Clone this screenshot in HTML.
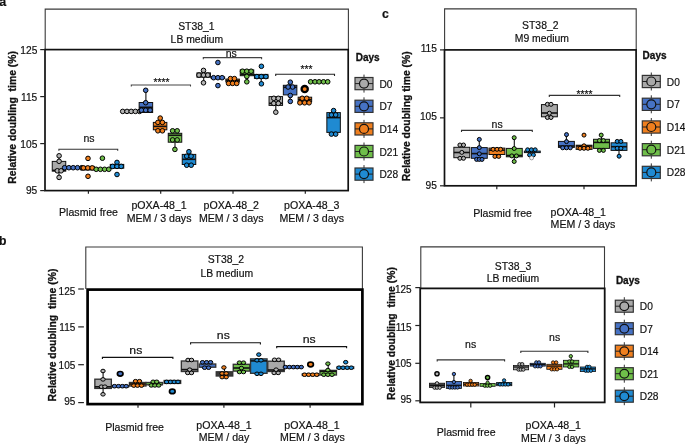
<!DOCTYPE html>
<html><head><meta charset="utf-8"><style>
html,body{margin:0;padding:0;background:#fff;}
svg{display:block;font-family:"Liberation Sans",sans-serif;-webkit-font-smoothing:antialiased;will-change:transform;}
text{stroke:#111;stroke-width:0.18px;}
</style></head><body>
<svg width="685" height="444" viewBox="0 0 685 444">
<rect width="685" height="444" fill="#fff"/>
<text x="-0.8" y="6.4" font-size="12.5" text-anchor="start" font-weight="bold" fill="#111">a</text>
<path d="M45.2 49.6V9.1H348.4V49.6" fill="none" stroke="#3a3a3a" stroke-width="1.1"/>
<text x="196.4" y="29.6" font-size="10.4" text-anchor="middle" font-weight="normal" fill="#111">ST38_1</text>
<text x="196.9" y="42.5" font-size="10.4" text-anchor="middle" font-weight="normal" fill="#111">LB medium</text>
<rect x="45" y="49.6" width="303.2" height="141" fill="none" stroke="#111" stroke-width="1.7"/>
<line x1="40.2" y1="49.6" x2="45" y2="49.6" stroke="#222" stroke-width="1.2"/>
<text x="37.3" y="53.7" font-size="10.2" text-anchor="end" font-weight="normal" fill="#111">125</text>
<line x1="40.2" y1="96.6" x2="45" y2="96.6" stroke="#222" stroke-width="1.2"/>
<text x="37.3" y="100.6" font-size="10.2" text-anchor="end" font-weight="normal" fill="#111">115</text>
<line x1="40.2" y1="143.6" x2="45" y2="143.6" stroke="#222" stroke-width="1.2"/>
<text x="37.3" y="147.6" font-size="10.2" text-anchor="end" font-weight="normal" fill="#111">105</text>
<line x1="40.2" y1="190.6" x2="45" y2="190.6" stroke="#222" stroke-width="1.2"/>
<text x="37.3" y="194.4" font-size="10.2" text-anchor="end" font-weight="normal" fill="#111">95</text>
<line x1="88.4" y1="190.6" x2="88.4" y2="193.8" stroke="#222" stroke-width="1.2"/>
<line x1="160.7" y1="190.6" x2="160.7" y2="193.8" stroke="#222" stroke-width="1.2"/>
<line x1="233" y1="190.6" x2="233" y2="193.8" stroke="#222" stroke-width="1.2"/>
<line x1="305.3" y1="190.6" x2="305.3" y2="193.8" stroke="#222" stroke-width="1.2"/>
<text x="88.5" y="216.2" font-size="10.6" text-anchor="middle" font-weight="normal" fill="#111">Plasmid free</text>
<text x="159.1" y="208.9" font-size="10.6" text-anchor="middle" font-weight="normal" fill="#111">pOXA-48_1</text>
<text x="159.1" y="221.7" font-size="10.6" text-anchor="middle" font-weight="normal" fill="#111">MEM / 3 days</text>
<text x="231.3" y="208.9" font-size="10.6" text-anchor="middle" font-weight="normal" fill="#111">pOXA-48_2</text>
<text x="231.3" y="221.7" font-size="10.6" text-anchor="middle" font-weight="normal" fill="#111">MEM / 3 days</text>
<text x="311.8" y="208.9" font-size="10.6" text-anchor="middle" font-weight="normal" fill="#111">pOXA-48_3</text>
<text x="311.8" y="221.7" font-size="10.6" text-anchor="middle" font-weight="normal" fill="#111">MEM / 3 days</text>
<text transform="translate(15.5,117.4) rotate(-90)" x="0" y="0" font-size="10.4" text-anchor="middle" font-weight="bold" fill="#111" style="stroke-width:0.3px" xml:space="preserve">Relative doubling  time (%)</text>
<line x1="59" y1="155.8" x2="59" y2="177.4" stroke="#111" stroke-width="1.1"/>
<rect x="52.25" y="161.4" width="13.5" height="9.7" fill="#a9a9a9" stroke="#111" stroke-width="1"/>
<line x1="52.25" y1="170.4" x2="65.75" y2="170.4" stroke="#111" stroke-width="1.6"/>
<circle cx="59.1" cy="155.8" r="2.3" fill="#b4b4b4" stroke="#000" stroke-width="1"/>
<circle cx="59.1" cy="161.3" r="2.3" fill="#b4b4b4" stroke="#000" stroke-width="1"/>
<circle cx="57.3" cy="170.8" r="2.3" fill="#b4b4b4" stroke="#000" stroke-width="1"/>
<circle cx="61.1" cy="170.8" r="2.3" fill="#b4b4b4" stroke="#000" stroke-width="1"/>
<circle cx="59.1" cy="177.4" r="2.3" fill="#b4b4b4" stroke="#000" stroke-width="1"/>
<rect x="66.85" y="167" width="13.5" height="1.4" fill="#4672c4" stroke="#111" stroke-width="1"/>
<circle cx="64.6" cy="167.7" r="2.3" fill="#4672c4" stroke="#000" stroke-width="1"/>
<circle cx="68.9" cy="167.7" r="2.3" fill="#4672c4" stroke="#000" stroke-width="1"/>
<circle cx="73.2" cy="167.7" r="2.3" fill="#4672c4" stroke="#000" stroke-width="1"/>
<circle cx="77.5" cy="167.7" r="2.3" fill="#4672c4" stroke="#000" stroke-width="1"/>
<circle cx="81.8" cy="167.7" r="2.3" fill="#4672c4" stroke="#000" stroke-width="1"/>
<rect x="80.85" y="166.4" width="13.5" height="3.6" fill="#f07f1e" stroke="#111" stroke-width="1"/>
<line x1="80.85" y1="169.2" x2="94.35" y2="169.2" stroke="#111" stroke-width="1.6"/>
<circle cx="88" cy="158.4" r="2.3" fill="#f07f1e" stroke="#000" stroke-width="1"/>
<circle cx="83.4" cy="167.9" r="2.3" fill="#f07f1e" stroke="#000" stroke-width="1"/>
<circle cx="87.8" cy="167.9" r="2.3" fill="#f07f1e" stroke="#000" stroke-width="1"/>
<circle cx="92.2" cy="167.9" r="2.3" fill="#f07f1e" stroke="#000" stroke-width="1"/>
<circle cx="88" cy="176.3" r="2.3" fill="#f07f1e" stroke="#000" stroke-width="1"/>
<rect x="95.85" y="168.6" width="13.5" height="1.4" fill="#6fbe4a" stroke="#111" stroke-width="1"/>
<circle cx="102.4" cy="158.2" r="2.3" fill="#6fbe4a" stroke="#000" stroke-width="1"/>
<circle cx="96.2" cy="169.3" r="2.3" fill="#6fbe4a" stroke="#000" stroke-width="1"/>
<circle cx="100.4" cy="169.3" r="2.3" fill="#6fbe4a" stroke="#000" stroke-width="1"/>
<circle cx="104.6" cy="169.3" r="2.3" fill="#6fbe4a" stroke="#000" stroke-width="1"/>
<circle cx="108.8" cy="169.3" r="2.3" fill="#6fbe4a" stroke="#000" stroke-width="1"/>
<rect x="110.25" y="164.4" width="13.5" height="3.8" fill="#1f8ad2" stroke="#111" stroke-width="1"/>
<line x1="110.25" y1="166.4" x2="123.75" y2="166.4" stroke="#111" stroke-width="1.6"/>
<circle cx="117" cy="162.4" r="2.3" fill="#1f8ad2" stroke="#000" stroke-width="1"/>
<circle cx="112.6" cy="166.4" r="2.3" fill="#1f8ad2" stroke="#000" stroke-width="1"/>
<circle cx="117" cy="166.4" r="2.3" fill="#1f8ad2" stroke="#000" stroke-width="1"/>
<circle cx="121.2" cy="166.4" r="2.3" fill="#1f8ad2" stroke="#000" stroke-width="1"/>
<circle cx="117" cy="174.5" r="2.3" fill="#1f8ad2" stroke="#000" stroke-width="1"/>
<rect x="124.45" y="110.6" width="13.5" height="1.6" fill="#a9a9a9" stroke="#111" stroke-width="1"/>
<circle cx="122.7" cy="111.4" r="2.3" fill="#b4b4b4" stroke="#000" stroke-width="1"/>
<circle cx="127" cy="111.4" r="2.3" fill="#b4b4b4" stroke="#000" stroke-width="1"/>
<circle cx="131.2" cy="111.4" r="2.3" fill="#b4b4b4" stroke="#000" stroke-width="1"/>
<circle cx="135.4" cy="111.4" r="2.3" fill="#b4b4b4" stroke="#000" stroke-width="1"/>
<circle cx="139.6" cy="111.4" r="2.3" fill="#b4b4b4" stroke="#000" stroke-width="1"/>
<line x1="145.9" y1="90.3" x2="145.9" y2="102.5" stroke="#111" stroke-width="1.1"/>
<rect x="139.15" y="102.5" width="13.5" height="10" fill="#4672c4" stroke="#111" stroke-width="1"/>
<line x1="139.15" y1="107.3" x2="152.65" y2="107.3" stroke="#111" stroke-width="1.6"/>
<circle cx="145.7" cy="90.3" r="2.3" fill="#4672c4" stroke="#000" stroke-width="1"/>
<circle cx="145.7" cy="102.7" r="2.3" fill="#4672c4" stroke="#000" stroke-width="1"/>
<circle cx="141.4" cy="110.2" r="2.3" fill="#4672c4" stroke="#000" stroke-width="1"/>
<circle cx="145.7" cy="110.2" r="2.3" fill="#4672c4" stroke="#000" stroke-width="1"/>
<circle cx="150.1" cy="110.2" r="2.3" fill="#4672c4" stroke="#000" stroke-width="1"/>
<rect x="153.35" y="122.4" width="13.5" height="7.4" fill="#f07f1e" stroke="#111" stroke-width="1"/>
<line x1="153.35" y1="126.4" x2="166.85" y2="126.4" stroke="#111" stroke-width="1.6"/>
<circle cx="160.2" cy="118.1" r="2.3" fill="#f07f1e" stroke="#000" stroke-width="1"/>
<circle cx="157.9" cy="122.4" r="2.3" fill="#f07f1e" stroke="#000" stroke-width="1"/>
<circle cx="162.4" cy="122.4" r="2.3" fill="#f07f1e" stroke="#000" stroke-width="1"/>
<circle cx="157.9" cy="130.8" r="2.3" fill="#f07f1e" stroke="#000" stroke-width="1"/>
<circle cx="162.4" cy="130.8" r="2.3" fill="#f07f1e" stroke="#000" stroke-width="1"/>
<line x1="175" y1="142.2" x2="175" y2="149.4" stroke="#111" stroke-width="1.1"/>
<rect x="168.25" y="133.3" width="13.5" height="8.9" fill="#6fbe4a" stroke="#111" stroke-width="1"/>
<line x1="168.25" y1="135.3" x2="181.75" y2="135.3" stroke="#111" stroke-width="1.6"/>
<circle cx="172.6" cy="130.8" r="2.3" fill="#6fbe4a" stroke="#000" stroke-width="1"/>
<circle cx="177.2" cy="130.8" r="2.3" fill="#6fbe4a" stroke="#000" stroke-width="1"/>
<circle cx="172.6" cy="139.9" r="2.3" fill="#6fbe4a" stroke="#000" stroke-width="1"/>
<circle cx="177.2" cy="139.9" r="2.3" fill="#6fbe4a" stroke="#000" stroke-width="1"/>
<circle cx="174.9" cy="149.4" r="2.3" fill="#6fbe4a" stroke="#000" stroke-width="1"/>
<rect x="182.25" y="154.4" width="13.5" height="10.1" fill="#1f8ad2" stroke="#111" stroke-width="1"/>
<line x1="182.25" y1="159.3" x2="195.75" y2="159.3" stroke="#111" stroke-width="1.6"/>
<circle cx="188.9" cy="151.7" r="2.3" fill="#1f8ad2" stroke="#000" stroke-width="1"/>
<circle cx="186.7" cy="156.2" r="2.3" fill="#1f8ad2" stroke="#000" stroke-width="1"/>
<circle cx="191.1" cy="156.2" r="2.3" fill="#1f8ad2" stroke="#000" stroke-width="1"/>
<circle cx="186.7" cy="165.2" r="2.3" fill="#1f8ad2" stroke="#000" stroke-width="1"/>
<circle cx="191.2" cy="165.2" r="2.3" fill="#1f8ad2" stroke="#000" stroke-width="1"/>
<line x1="203.7" y1="70.4" x2="203.7" y2="82.8" stroke="#111" stroke-width="1.1"/>
<rect x="196.95" y="72.9" width="13.5" height="4.3" fill="#a9a9a9" stroke="#111" stroke-width="1"/>
<line x1="196.95" y1="75.1" x2="210.45" y2="75.1" stroke="#111" stroke-width="1.6"/>
<circle cx="203.5" cy="70.4" r="2.3" fill="#b4b4b4" stroke="#000" stroke-width="1"/>
<circle cx="199" cy="75.1" r="2.3" fill="#b4b4b4" stroke="#000" stroke-width="1"/>
<circle cx="203.5" cy="75.1" r="2.3" fill="#b4b4b4" stroke="#000" stroke-width="1"/>
<circle cx="207.8" cy="75.1" r="2.3" fill="#b4b4b4" stroke="#000" stroke-width="1"/>
<circle cx="203.5" cy="82.8" r="2.3" fill="#b4b4b4" stroke="#000" stroke-width="1"/>
<rect x="211.15" y="77" width="13.5" height="1.4" fill="#4672c4" stroke="#111" stroke-width="1"/>
<circle cx="217.9" cy="62.5" r="2.3" fill="#4672c4" stroke="#000" stroke-width="1"/>
<circle cx="213.6" cy="77.7" r="2.3" fill="#4672c4" stroke="#000" stroke-width="1"/>
<circle cx="217.9" cy="77.7" r="2.3" fill="#4672c4" stroke="#000" stroke-width="1"/>
<circle cx="222.1" cy="77.7" r="2.3" fill="#4672c4" stroke="#000" stroke-width="1"/>
<circle cx="217.9" cy="85.6" r="2.3" fill="#4672c4" stroke="#000" stroke-width="1"/>
<rect x="225.85" y="79.1" width="13.5" height="2.9" fill="#f07f1e" stroke="#111" stroke-width="1"/>
<line x1="225.85" y1="80.5" x2="239.35" y2="80.5" stroke="#111" stroke-width="1.6"/>
<circle cx="230.4" cy="78.6" r="2.3" fill="#f07f1e" stroke="#000" stroke-width="1"/>
<circle cx="234.4" cy="78.6" r="2.3" fill="#f07f1e" stroke="#000" stroke-width="1"/>
<circle cx="228.6" cy="83.4" r="2.3" fill="#f07f1e" stroke="#000" stroke-width="1"/>
<circle cx="232.6" cy="83.4" r="2.3" fill="#f07f1e" stroke="#000" stroke-width="1"/>
<circle cx="236.7" cy="83.4" r="2.3" fill="#f07f1e" stroke="#000" stroke-width="1"/>
<line x1="247" y1="75.7" x2="247" y2="81.8" stroke="#111" stroke-width="1.1"/>
<rect x="240.25" y="69.9" width="13.5" height="5.8" fill="#6fbe4a" stroke="#111" stroke-width="1"/>
<line x1="240.25" y1="74.4" x2="253.75" y2="74.4" stroke="#111" stroke-width="1.6"/>
<circle cx="242.5" cy="71.2" r="2.3" fill="#6fbe4a" stroke="#000" stroke-width="1"/>
<circle cx="246.8" cy="71.2" r="2.3" fill="#6fbe4a" stroke="#000" stroke-width="1"/>
<circle cx="251.1" cy="71.2" r="2.3" fill="#6fbe4a" stroke="#000" stroke-width="1"/>
<circle cx="246.8" cy="76.4" r="2.3" fill="#6fbe4a" stroke="#000" stroke-width="1"/>
<circle cx="246.8" cy="81.8" r="2.3" fill="#6fbe4a" stroke="#000" stroke-width="1"/>
<line x1="261.2" y1="78.4" x2="261.2" y2="83.8" stroke="#111" stroke-width="1.1"/>
<rect x="254.45" y="74.4" width="13.5" height="4" fill="#1f8ad2" stroke="#111" stroke-width="1"/>
<line x1="254.45" y1="76.6" x2="267.95" y2="76.6" stroke="#111" stroke-width="1.6"/>
<circle cx="261.4" cy="66.3" r="2.3" fill="#1f8ad2" stroke="#000" stroke-width="1"/>
<circle cx="256.9" cy="76.6" r="2.3" fill="#1f8ad2" stroke="#000" stroke-width="1"/>
<circle cx="261.3" cy="76.6" r="2.3" fill="#1f8ad2" stroke="#000" stroke-width="1"/>
<circle cx="265.9" cy="76.6" r="2.3" fill="#1f8ad2" stroke="#000" stroke-width="1"/>
<circle cx="261.4" cy="83.8" r="2.3" fill="#1f8ad2" stroke="#000" stroke-width="1"/>
<line x1="275.8" y1="105.4" x2="275.8" y2="112.2" stroke="#111" stroke-width="1.1"/>
<rect x="269.05" y="96.6" width="13.5" height="8.8" fill="#a9a9a9" stroke="#111" stroke-width="1"/>
<line x1="269.05" y1="103.3" x2="282.55" y2="103.3" stroke="#111" stroke-width="1.6"/>
<circle cx="273.8" cy="98.3" r="2.3" fill="#b4b4b4" stroke="#000" stroke-width="1"/>
<circle cx="278.3" cy="98.3" r="2.3" fill="#b4b4b4" stroke="#000" stroke-width="1"/>
<circle cx="273.8" cy="103.4" r="2.3" fill="#b4b4b4" stroke="#000" stroke-width="1"/>
<circle cx="278.3" cy="103.4" r="2.3" fill="#b4b4b4" stroke="#000" stroke-width="1"/>
<circle cx="275.8" cy="112.2" r="2.3" fill="#b4b4b4" stroke="#000" stroke-width="1"/>
<line x1="290.1" y1="82.2" x2="290.1" y2="101.4" stroke="#111" stroke-width="1.1"/>
<rect x="283.35" y="85.3" width="13.5" height="9.6" fill="#4672c4" stroke="#111" stroke-width="1"/>
<line x1="283.35" y1="87.3" x2="296.85" y2="87.3" stroke="#111" stroke-width="1.6"/>
<circle cx="290.3" cy="82.2" r="2.3" fill="#4672c4" stroke="#000" stroke-width="1"/>
<circle cx="288.1" cy="87" r="2.3" fill="#4672c4" stroke="#000" stroke-width="1"/>
<circle cx="292.6" cy="87" r="2.3" fill="#4672c4" stroke="#000" stroke-width="1"/>
<circle cx="290.3" cy="95.5" r="2.3" fill="#4672c4" stroke="#000" stroke-width="1"/>
<circle cx="290.3" cy="101.4" r="2.3" fill="#4672c4" stroke="#000" stroke-width="1"/>
<rect x="298.15" y="97.2" width="13.5" height="4.5" fill="#f07f1e" stroke="#111" stroke-width="1"/>
<line x1="298.15" y1="99.6" x2="311.65" y2="99.6" stroke="#111" stroke-width="1.6"/>
<circle cx="304.7" cy="89.1" r="3.1" fill="#f07f1e" stroke="#000" stroke-width="2.3"/>
<circle cx="302.2" cy="98.3" r="2.3" fill="#f07f1e" stroke="#000" stroke-width="1"/>
<circle cx="306.7" cy="98.3" r="2.3" fill="#f07f1e" stroke="#000" stroke-width="1"/>
<circle cx="299.9" cy="102.8" r="2.3" fill="#f07f1e" stroke="#000" stroke-width="1"/>
<circle cx="304.6" cy="102.8" r="2.3" fill="#f07f1e" stroke="#000" stroke-width="1"/>
<circle cx="309.1" cy="102.8" r="2.3" fill="#f07f1e" stroke="#000" stroke-width="1"/>
<rect x="312.25" y="81.1" width="13.5" height="1.4" fill="#6fbe4a" stroke="#111" stroke-width="1"/>
<circle cx="310.6" cy="81.8" r="2.3" fill="#6fbe4a" stroke="#000" stroke-width="1"/>
<circle cx="315" cy="81.8" r="2.3" fill="#6fbe4a" stroke="#000" stroke-width="1"/>
<circle cx="319.1" cy="81.8" r="2.3" fill="#6fbe4a" stroke="#000" stroke-width="1"/>
<circle cx="323.5" cy="81.8" r="2.3" fill="#6fbe4a" stroke="#000" stroke-width="1"/>
<circle cx="327.7" cy="81.8" r="2.3" fill="#6fbe4a" stroke="#000" stroke-width="1"/>
<rect x="326.85" y="112.6" width="13.5" height="19.8" fill="#1f8ad2" stroke="#111" stroke-width="1"/>
<line x1="326.85" y1="117.6" x2="340.35" y2="117.6" stroke="#111" stroke-width="1.6"/>
<circle cx="333.6" cy="110.6" r="2.3" fill="#1f8ad2" stroke="#000" stroke-width="1"/>
<circle cx="331.4" cy="114.9" r="2.3" fill="#1f8ad2" stroke="#000" stroke-width="1"/>
<circle cx="335.7" cy="114.9" r="2.3" fill="#1f8ad2" stroke="#000" stroke-width="1"/>
<circle cx="331.4" cy="134.1" r="2.3" fill="#1f8ad2" stroke="#000" stroke-width="1"/>
<circle cx="335.7" cy="134.1" r="2.3" fill="#1f8ad2" stroke="#000" stroke-width="1"/>
<path d="M58.9 150.8V149.2H117.7V150.8" fill="none" stroke="#333" stroke-width="1.1"/>
<text x="89" y="142.4" font-size="10.5" text-anchor="middle" font-weight="normal" fill="#111">ns</text>
<path d="M131.3 86.6V85H190.5V86.6" fill="none" stroke="#444" stroke-width="1.1"/>
<text x="161.4" y="85.6" font-size="10.3" text-anchor="middle" font-weight="normal" fill="#111">****</text>
<path d="M203.3 59.2V57.6H261.6V59.2" fill="none" stroke="#444" stroke-width="1.1"/>
<text x="231.3" y="56.8" font-size="10.5" text-anchor="middle" font-weight="normal" fill="#111">ns</text>
<path d="M275.7 75.9V74.3H334.5V75.9" fill="none" stroke="#222" stroke-width="1.1"/>
<text x="306.4" y="72.6" font-size="10.3" text-anchor="middle" font-weight="normal" fill="#111">***</text>
<text x="355.7" y="60.9" font-size="10" text-anchor="start" font-weight="bold" fill="#111" style="stroke-width:0.3px">Days</text>
<line x1="364" y1="74.6" x2="364" y2="92.6" stroke="#333" stroke-width="1"/>
<rect x="355" y="77.5" width="18" height="12.2" fill="#a9a9a9" stroke="#333" stroke-width="1.2"/>
<line x1="355" y1="83.6" x2="373" y2="83.6" stroke="#222" stroke-width="1"/>
<circle cx="364" cy="83.6" r="4.5" fill="#a9a9a9" stroke="#111" stroke-width="1.2"/>
<text x="379.5" y="87.6" font-size="10.2" text-anchor="start" font-weight="normal" fill="#111">D0</text>
<line x1="364" y1="97.3" x2="364" y2="115.3" stroke="#333" stroke-width="1"/>
<rect x="355" y="100.2" width="18" height="12.2" fill="#4672c4" stroke="#333" stroke-width="1.2"/>
<line x1="355" y1="106.3" x2="373" y2="106.3" stroke="#222" stroke-width="1"/>
<circle cx="364" cy="106.3" r="4.5" fill="#4672c4" stroke="#111" stroke-width="1.2"/>
<text x="379.5" y="110.3" font-size="10.2" text-anchor="start" font-weight="normal" fill="#111">D7</text>
<line x1="364" y1="119.9" x2="364" y2="137.9" stroke="#333" stroke-width="1"/>
<rect x="355" y="122.8" width="18" height="12.2" fill="#f07f1e" stroke="#333" stroke-width="1.2"/>
<line x1="355" y1="128.9" x2="373" y2="128.9" stroke="#222" stroke-width="1"/>
<circle cx="364" cy="128.9" r="4.5" fill="#f07f1e" stroke="#111" stroke-width="1.2"/>
<text x="379.5" y="132.9" font-size="10.2" text-anchor="start" font-weight="normal" fill="#111">D14</text>
<line x1="364" y1="142.5" x2="364" y2="160.5" stroke="#333" stroke-width="1"/>
<rect x="355" y="145.4" width="18" height="12.2" fill="#6fbe4a" stroke="#333" stroke-width="1.2"/>
<line x1="355" y1="151.5" x2="373" y2="151.5" stroke="#222" stroke-width="1"/>
<circle cx="364" cy="151.5" r="4.5" fill="#6fbe4a" stroke="#111" stroke-width="1.2"/>
<text x="379.5" y="155.5" font-size="10.2" text-anchor="start" font-weight="normal" fill="#111">D21</text>
<line x1="364" y1="165.1" x2="364" y2="183.1" stroke="#333" stroke-width="1"/>
<rect x="355" y="168" width="18" height="12.2" fill="#1f8ad2" stroke="#333" stroke-width="1.2"/>
<line x1="355" y1="174.1" x2="373" y2="174.1" stroke="#222" stroke-width="1"/>
<circle cx="364" cy="174.1" r="4.5" fill="#1f8ad2" stroke="#111" stroke-width="1.2"/>
<text x="379.5" y="178.1" font-size="10.2" text-anchor="start" font-weight="normal" fill="#111">D28</text>
<text x="382" y="18" font-size="12.2" text-anchor="start" font-weight="bold" fill="#111">c</text>
<path d="M444.6 49.9V8.9H636.2V49.9" fill="none" stroke="#3a3a3a" stroke-width="1.1"/>
<text x="540.3" y="28.9" font-size="10.4" text-anchor="middle" font-weight="normal" fill="#111">ST38_2</text>
<text x="541.9" y="41.6" font-size="10.4" text-anchor="middle" font-weight="normal" fill="#111">M9 medium</text>
<rect x="444.5" y="49.9" width="191.6" height="135.9" fill="none" stroke="#111" stroke-width="1.7"/>
<line x1="440" y1="49.9" x2="444.5" y2="49.9" stroke="#222" stroke-width="1.2"/>
<text x="436.9" y="51.9" font-size="10.2" text-anchor="end" font-weight="normal" fill="#111">115</text>
<line x1="440" y1="117.85" x2="444.5" y2="117.85" stroke="#222" stroke-width="1.2"/>
<text x="436.9" y="120.4" font-size="10.2" text-anchor="end" font-weight="normal" fill="#111">105</text>
<line x1="440" y1="185.8" x2="444.5" y2="185.8" stroke="#222" stroke-width="1.2"/>
<text x="436.9" y="189.4" font-size="10.2" text-anchor="end" font-weight="normal" fill="#111">95</text>
<line x1="496.8" y1="185.8" x2="496.8" y2="189.2" stroke="#222" stroke-width="1.2"/>
<line x1="584" y1="185.8" x2="584" y2="189.2" stroke="#222" stroke-width="1.2"/>
<text x="502.6" y="217" font-size="10.6" text-anchor="middle" font-weight="normal" fill="#111">Plasmid free</text>
<text x="550.6" y="215.7" font-size="10.6" text-anchor="start" font-weight="normal" fill="#111">pOXA-48_1</text>
<text x="550.6" y="228.1" font-size="10.6" text-anchor="start" font-weight="normal" fill="#111">MEM / 3 days</text>
<text transform="translate(410.3,116.2) rotate(-90)" x="0" y="0" font-size="10.4" text-anchor="middle" font-weight="bold" fill="#111" style="stroke-width:0.3px" xml:space="preserve">Relative doubling time (%)</text>
<rect x="453.85" y="147.3" width="15.9" height="10.4" fill="#a9a9a9" stroke="#111" stroke-width="1"/>
<line x1="453.85" y1="152.5" x2="469.75" y2="152.5" stroke="#111" stroke-width="1.6"/>
<circle cx="459.9" cy="145" r="2" fill="#b4b4b4" stroke="#000" stroke-width="1"/>
<circle cx="463.5" cy="145" r="2" fill="#b4b4b4" stroke="#000" stroke-width="1"/>
<circle cx="461.8" cy="152.4" r="2" fill="#b4b4b4" stroke="#000" stroke-width="1"/>
<circle cx="459.9" cy="158.3" r="2" fill="#b4b4b4" stroke="#000" stroke-width="1"/>
<circle cx="463.5" cy="158.3" r="2" fill="#b4b4b4" stroke="#000" stroke-width="1"/>
<line x1="479.3" y1="139.4" x2="479.3" y2="147.6" stroke="#111" stroke-width="1.1"/>
<rect x="471.35" y="147.6" width="15.9" height="10.7" fill="#4672c4" stroke="#111" stroke-width="1"/>
<line x1="471.35" y1="153.6" x2="487.25" y2="153.6" stroke="#111" stroke-width="1.6"/>
<circle cx="479.3" cy="139.4" r="2" fill="#4672c4" stroke="#000" stroke-width="1"/>
<circle cx="479.3" cy="147.6" r="2" fill="#4672c4" stroke="#000" stroke-width="1"/>
<circle cx="479.3" cy="153.8" r="2" fill="#4672c4" stroke="#000" stroke-width="1"/>
<circle cx="476.6" cy="159.4" r="2" fill="#4672c4" stroke="#000" stroke-width="1"/>
<circle cx="479.3" cy="159.4" r="2" fill="#4672c4" stroke="#000" stroke-width="1"/>
<circle cx="482" cy="159.4" r="2" fill="#4672c4" stroke="#000" stroke-width="1"/>
<rect x="488.95" y="148.1" width="15.9" height="6.4" fill="#f07f1e" stroke="#111" stroke-width="1"/>
<line x1="488.95" y1="150.2" x2="504.85" y2="150.2" stroke="#111" stroke-width="1.6"/>
<circle cx="493.1" cy="149.3" r="2" fill="#f07f1e" stroke="#000" stroke-width="1"/>
<circle cx="497" cy="149.3" r="2" fill="#f07f1e" stroke="#000" stroke-width="1"/>
<circle cx="500.6" cy="149.3" r="2" fill="#f07f1e" stroke="#000" stroke-width="1"/>
<circle cx="494.9" cy="156.4" r="2" fill="#f07f1e" stroke="#000" stroke-width="1"/>
<circle cx="498.7" cy="156.4" r="2" fill="#f07f1e" stroke="#000" stroke-width="1"/>
<line x1="514.3" y1="137.7" x2="514.3" y2="161.5" stroke="#111" stroke-width="1.1"/>
<rect x="506.35" y="148.4" width="15.9" height="8.4" fill="#6fbe4a" stroke="#111" stroke-width="1"/>
<line x1="506.35" y1="155.5" x2="522.25" y2="155.5" stroke="#111" stroke-width="1.6"/>
<circle cx="514.2" cy="137.7" r="2" fill="#6fbe4a" stroke="#000" stroke-width="1"/>
<circle cx="514.2" cy="148.5" r="2" fill="#6fbe4a" stroke="#000" stroke-width="1"/>
<circle cx="511.8" cy="155.9" r="2" fill="#6fbe4a" stroke="#000" stroke-width="1"/>
<circle cx="516.4" cy="155.9" r="2" fill="#6fbe4a" stroke="#000" stroke-width="1"/>
<circle cx="514.2" cy="161.5" r="2" fill="#6fbe4a" stroke="#000" stroke-width="1"/>
<rect x="524.35" y="151.1" width="15.9" height="1.5" fill="#1f8ad2" stroke="#111" stroke-width="1"/>
<circle cx="527.6" cy="149.8" r="2" fill="#1f8ad2" stroke="#000" stroke-width="1"/>
<circle cx="531.4" cy="149.8" r="2" fill="#1f8ad2" stroke="#000" stroke-width="1"/>
<circle cx="535.2" cy="149.8" r="2" fill="#1f8ad2" stroke="#000" stroke-width="1"/>
<circle cx="529.6" cy="154.9" r="2" fill="#1f8ad2" stroke="#000" stroke-width="1"/>
<circle cx="533.4" cy="154.9" r="2" fill="#1f8ad2" stroke="#000" stroke-width="1"/>
<circle cx="531.6" cy="157.9" r="2" fill="#f4f4f4" stroke="#666" stroke-width="0.6"/>
<rect x="541.45" y="104.6" width="15.9" height="12.2" fill="#a9a9a9" stroke="#111" stroke-width="1"/>
<line x1="541.45" y1="113" x2="557.35" y2="113" stroke="#111" stroke-width="1.6"/>
<circle cx="547.4" cy="104.3" r="2" fill="#b4b4b4" stroke="#000" stroke-width="1"/>
<circle cx="551" cy="104.3" r="2" fill="#b4b4b4" stroke="#000" stroke-width="1"/>
<circle cx="549.4" cy="113.2" r="2" fill="#b4b4b4" stroke="#000" stroke-width="1"/>
<circle cx="547.4" cy="117.5" r="2" fill="#b4b4b4" stroke="#000" stroke-width="1"/>
<circle cx="551" cy="117.5" r="2" fill="#b4b4b4" stroke="#000" stroke-width="1"/>
<line x1="566.4" y1="134.6" x2="566.4" y2="141.4" stroke="#111" stroke-width="1.1"/>
<rect x="558.45" y="141.4" width="15.9" height="6" fill="#4672c4" stroke="#111" stroke-width="1"/>
<line x1="558.45" y1="146" x2="574.35" y2="146" stroke="#111" stroke-width="1.6"/>
<circle cx="566.5" cy="134.6" r="2" fill="#4672c4" stroke="#000" stroke-width="1"/>
<circle cx="566.5" cy="141.6" r="2" fill="#4672c4" stroke="#000" stroke-width="1"/>
<circle cx="562.7" cy="147.8" r="2" fill="#4672c4" stroke="#000" stroke-width="1"/>
<circle cx="566.5" cy="147.8" r="2" fill="#4672c4" stroke="#000" stroke-width="1"/>
<circle cx="570.3" cy="147.8" r="2" fill="#4672c4" stroke="#000" stroke-width="1"/>
<rect x="576.15" y="145.2" width="15.9" height="4.2" fill="#f07f1e" stroke="#111" stroke-width="1"/>
<line x1="576.15" y1="146" x2="592.05" y2="146" stroke="#111" stroke-width="1.6"/>
<circle cx="584" cy="135.1" r="2" fill="#f07f1e" stroke="#000" stroke-width="1"/>
<circle cx="584" cy="145.8" r="2" fill="#f07f1e" stroke="#000" stroke-width="1"/>
<circle cx="580" cy="148.3" r="2" fill="#f07f1e" stroke="#000" stroke-width="1"/>
<circle cx="584" cy="148.3" r="2" fill="#f07f1e" stroke="#000" stroke-width="1"/>
<circle cx="587.9" cy="148.3" r="2" fill="#f07f1e" stroke="#000" stroke-width="1"/>
<line x1="601.5" y1="135.1" x2="601.5" y2="139.2" stroke="#111" stroke-width="1.1"/>
<rect x="593.55" y="139.3" width="15.9" height="9.1" fill="#6fbe4a" stroke="#111" stroke-width="1"/>
<line x1="593.55" y1="142.4" x2="609.45" y2="142.4" stroke="#111" stroke-width="1.6"/>
<circle cx="601.2" cy="135.1" r="2" fill="#6fbe4a" stroke="#000" stroke-width="1"/>
<circle cx="599.4" cy="140.6" r="2" fill="#6fbe4a" stroke="#000" stroke-width="1"/>
<circle cx="603.4" cy="140.6" r="2" fill="#6fbe4a" stroke="#000" stroke-width="1"/>
<circle cx="599.4" cy="150.4" r="2" fill="#6fbe4a" stroke="#000" stroke-width="1"/>
<circle cx="603.4" cy="150.4" r="2" fill="#6fbe4a" stroke="#000" stroke-width="1"/>
<line x1="619" y1="150.4" x2="619" y2="156.2" stroke="#111" stroke-width="1.1"/>
<rect x="611.05" y="142.8" width="15.9" height="7.6" fill="#1f8ad2" stroke="#111" stroke-width="1"/>
<line x1="611.05" y1="146.7" x2="626.95" y2="146.7" stroke="#111" stroke-width="1.6"/>
<circle cx="617.2" cy="141.4" r="2" fill="#1f8ad2" stroke="#000" stroke-width="1"/>
<circle cx="620.9" cy="141.4" r="2" fill="#1f8ad2" stroke="#000" stroke-width="1"/>
<circle cx="617.2" cy="148.3" r="2" fill="#1f8ad2" stroke="#000" stroke-width="1"/>
<circle cx="620.9" cy="148.3" r="2" fill="#1f8ad2" stroke="#000" stroke-width="1"/>
<circle cx="619.1" cy="156.2" r="2" fill="#1f8ad2" stroke="#000" stroke-width="1"/>
<path d="M461.5 132V130.4H532.3V132" fill="none" stroke="#333" stroke-width="1.1"/>
<text x="497.1" y="128.3" font-size="10.5" text-anchor="middle" font-weight="normal" fill="#111">ns</text>
<path d="M549.3 97V95.4H619.7V97" fill="none" stroke="#333" stroke-width="1.1"/>
<text x="584.4" y="97.6" font-size="10.3" text-anchor="middle" font-weight="normal" fill="#111">****</text>
<text x="642.6" y="59.3" font-size="10" text-anchor="start" font-weight="bold" fill="#111" style="stroke-width:0.3px">Days</text>
<line x1="651.3" y1="72.5" x2="651.3" y2="90.5" stroke="#333" stroke-width="1"/>
<rect x="642.3" y="75.4" width="18" height="12.2" fill="#a9a9a9" stroke="#333" stroke-width="1.2"/>
<line x1="642.3" y1="81.5" x2="660.3" y2="81.5" stroke="#222" stroke-width="1"/>
<circle cx="651.3" cy="81.5" r="4.5" fill="#a9a9a9" stroke="#111" stroke-width="1.2"/>
<text x="666.8" y="85.5" font-size="10.2" text-anchor="start" font-weight="normal" fill="#111">D0</text>
<line x1="651.3" y1="95.3" x2="651.3" y2="113.3" stroke="#333" stroke-width="1"/>
<rect x="642.3" y="98.2" width="18" height="12.2" fill="#4672c4" stroke="#333" stroke-width="1.2"/>
<line x1="642.3" y1="104.3" x2="660.3" y2="104.3" stroke="#222" stroke-width="1"/>
<circle cx="651.3" cy="104.3" r="4.5" fill="#4672c4" stroke="#111" stroke-width="1.2"/>
<text x="666.8" y="108.3" font-size="10.2" text-anchor="start" font-weight="normal" fill="#111">D7</text>
<line x1="651.3" y1="118" x2="651.3" y2="136" stroke="#333" stroke-width="1"/>
<rect x="642.3" y="120.9" width="18" height="12.2" fill="#f07f1e" stroke="#333" stroke-width="1.2"/>
<line x1="642.3" y1="127" x2="660.3" y2="127" stroke="#222" stroke-width="1"/>
<circle cx="651.3" cy="127" r="4.5" fill="#f07f1e" stroke="#111" stroke-width="1.2"/>
<text x="666.8" y="131" font-size="10.2" text-anchor="start" font-weight="normal" fill="#111">D14</text>
<line x1="651.3" y1="140.7" x2="651.3" y2="158.7" stroke="#333" stroke-width="1"/>
<rect x="642.3" y="143.6" width="18" height="12.2" fill="#6fbe4a" stroke="#333" stroke-width="1.2"/>
<line x1="642.3" y1="149.7" x2="660.3" y2="149.7" stroke="#222" stroke-width="1"/>
<circle cx="651.3" cy="149.7" r="4.5" fill="#6fbe4a" stroke="#111" stroke-width="1.2"/>
<text x="666.8" y="153.7" font-size="10.2" text-anchor="start" font-weight="normal" fill="#111">D21</text>
<line x1="651.3" y1="163.4" x2="651.3" y2="181.4" stroke="#333" stroke-width="1"/>
<rect x="642.3" y="166.3" width="18" height="12.2" fill="#1f8ad2" stroke="#333" stroke-width="1.2"/>
<line x1="642.3" y1="172.4" x2="660.3" y2="172.4" stroke="#222" stroke-width="1"/>
<circle cx="651.3" cy="172.4" r="4.5" fill="#1f8ad2" stroke="#111" stroke-width="1.2"/>
<text x="666.8" y="176.4" font-size="10.2" text-anchor="start" font-weight="normal" fill="#111">D28</text>
<text x="-0.9" y="244.9" font-size="12.2" text-anchor="start" font-weight="bold" fill="#111">b</text>
<path d="M85.8 289V247H362.4V289" fill="none" stroke="#3a3a3a" stroke-width="1.1"/>
<text x="225.9" y="263.4" font-size="10.4" text-anchor="middle" font-weight="normal" fill="#111">ST38_2</text>
<text x="226.8" y="276.9" font-size="10.4" text-anchor="middle" font-weight="normal" fill="#111">LB medium</text>
<rect x="87.6" y="289.6" width="274.8" height="114.5" fill="none" stroke="#000" stroke-width="2.7"/>
<line x1="78.2" y1="289" x2="83.9" y2="289" stroke="#222" stroke-width="1.2"/>
<text x="75.3" y="294.8" font-size="10" text-anchor="end" font-weight="normal" fill="#111">125</text>
<line x1="78.2" y1="326.9" x2="83.9" y2="326.9" stroke="#222" stroke-width="1.2"/>
<text x="75.3" y="331.4" font-size="10" text-anchor="end" font-weight="normal" fill="#111">115</text>
<line x1="78.2" y1="364.7" x2="83.9" y2="364.7" stroke="#222" stroke-width="1.2"/>
<text x="75.3" y="369.3" font-size="10" text-anchor="end" font-weight="normal" fill="#111">105</text>
<line x1="78.2" y1="402.6" x2="83.9" y2="402.6" stroke="#222" stroke-width="1.2"/>
<text x="75.3" y="404.5" font-size="10" text-anchor="end" font-weight="normal" fill="#111">95</text>
<line x1="138" y1="404.5" x2="138" y2="407.7" stroke="#222" stroke-width="1.2"/>
<line x1="223.9" y1="404.5" x2="223.9" y2="407.7" stroke="#222" stroke-width="1.2"/>
<line x1="310.1" y1="404.5" x2="310.1" y2="407.7" stroke="#222" stroke-width="1.2"/>
<text x="134.6" y="430.8" font-size="10.6" text-anchor="middle" font-weight="normal" fill="#111">Plasmid free</text>
<text x="224" y="428.9" font-size="10.6" text-anchor="middle" font-weight="normal" fill="#111">pOXA-48_1</text>
<text x="224" y="441" font-size="10.6" text-anchor="middle" font-weight="normal" fill="#111">MEM / day</text>
<text x="312" y="428.9" font-size="10.6" text-anchor="middle" font-weight="normal" fill="#111">pOXA-48_1</text>
<text x="312.5" y="441" font-size="10.6" text-anchor="middle" font-weight="normal" fill="#111">MEM / 3 days</text>
<text transform="translate(56,335) rotate(-90)" x="0" y="0" font-size="10.4" text-anchor="middle" font-weight="bold" fill="#111" style="stroke-width:0.3px" xml:space="preserve">Relative doubling  time (%)</text>
<line x1="103.1" y1="371" x2="103.1" y2="394.3" stroke="#111" stroke-width="1.1"/>
<rect x="94.85" y="379.2" width="16.5" height="9.2" fill="#a9a9a9" stroke="#333" stroke-width="1.35"/>
<line x1="94.85" y1="386.8" x2="111.35" y2="386.8" stroke="#111" stroke-width="1.6"/>
<ellipse cx="103" cy="371" rx="2.2" ry="1.8" fill="#b4b4b4" stroke="#000" stroke-width="1"/>
<ellipse cx="103" cy="379.4" rx="2.2" ry="1.8" fill="#b4b4b4" stroke="#000" stroke-width="1"/>
<ellipse cx="101.4" cy="386.7" rx="2.2" ry="1.8" fill="#b4b4b4" stroke="#000" stroke-width="1"/>
<ellipse cx="104.9" cy="386.7" rx="2.2" ry="1.8" fill="#b4b4b4" stroke="#000" stroke-width="1"/>
<ellipse cx="103" cy="394.3" rx="2.2" ry="1.8" fill="#b4b4b4" stroke="#000" stroke-width="1"/>
<rect x="112.05" y="385.5" width="16.5" height="1.5" fill="#4672c4" stroke="#333" stroke-width="1.35"/>
<ellipse cx="120.2" cy="373.8" rx="2.8" ry="2.3" fill="#4672c4" stroke="#000" stroke-width="1.7"/>
<ellipse cx="114.5" cy="386.2" rx="2.2" ry="1.8" fill="#4672c4" stroke="#000" stroke-width="1"/>
<ellipse cx="118.5" cy="386.2" rx="2.2" ry="1.8" fill="#4672c4" stroke="#000" stroke-width="1"/>
<ellipse cx="122.4" cy="386.2" rx="2.2" ry="1.8" fill="#4672c4" stroke="#000" stroke-width="1"/>
<ellipse cx="126.2" cy="386.2" rx="2.2" ry="1.8" fill="#4672c4" stroke="#000" stroke-width="1"/>
<rect x="129.45" y="382.5" width="16.5" height="3.5" fill="#f07f1e" stroke="#333" stroke-width="1.35"/>
<line x1="129.45" y1="384" x2="145.95" y2="384" stroke="#111" stroke-width="1.6"/>
<ellipse cx="135.5" cy="381.2" rx="2.2" ry="1.8" fill="#f07f1e" stroke="#000" stroke-width="1"/>
<ellipse cx="139.5" cy="381.2" rx="2.2" ry="1.8" fill="#f07f1e" stroke="#000" stroke-width="1"/>
<ellipse cx="133.8" cy="385.6" rx="2.2" ry="1.8" fill="#f07f1e" stroke="#000" stroke-width="1"/>
<ellipse cx="137.5" cy="385.6" rx="2.2" ry="1.8" fill="#f07f1e" stroke="#000" stroke-width="1"/>
<ellipse cx="141.5" cy="385.6" rx="2.2" ry="1.8" fill="#f07f1e" stroke="#000" stroke-width="1"/>
<rect x="145.95" y="382.5" width="16.5" height="2.3" fill="#6fbe4a" stroke="#333" stroke-width="1.35"/>
<ellipse cx="153.1" cy="381.8" rx="2.2" ry="1.8" fill="#6fbe4a" stroke="#000" stroke-width="1"/>
<ellipse cx="156.7" cy="381.8" rx="2.2" ry="1.8" fill="#6fbe4a" stroke="#000" stroke-width="1"/>
<ellipse cx="151.3" cy="385.4" rx="2.2" ry="1.8" fill="#6fbe4a" stroke="#000" stroke-width="1"/>
<ellipse cx="154.9" cy="385.4" rx="2.2" ry="1.8" fill="#6fbe4a" stroke="#000" stroke-width="1"/>
<ellipse cx="158.7" cy="385.4" rx="2.2" ry="1.8" fill="#6fbe4a" stroke="#000" stroke-width="1"/>
<rect x="164.15" y="380.5" width="16.5" height="2.9" fill="#1f8ad2" stroke="#333" stroke-width="1.35"/>
<ellipse cx="172.3" cy="391.4" rx="2.8" ry="2.3" fill="#1f8ad2" stroke="#000" stroke-width="1.7"/>
<ellipse cx="166.6" cy="381.9" rx="2.2" ry="1.8" fill="#1f8ad2" stroke="#000" stroke-width="1"/>
<ellipse cx="170.5" cy="381.9" rx="2.2" ry="1.8" fill="#1f8ad2" stroke="#000" stroke-width="1"/>
<ellipse cx="174.2" cy="381.9" rx="2.2" ry="1.8" fill="#1f8ad2" stroke="#000" stroke-width="1"/>
<ellipse cx="178" cy="381.9" rx="2.2" ry="1.8" fill="#1f8ad2" stroke="#000" stroke-width="1"/>
<rect x="181.35" y="361" width="16.5" height="10.5" fill="#a9a9a9" stroke="#333" stroke-width="1.35"/>
<line x1="181.35" y1="369.6" x2="197.85" y2="369.6" stroke="#111" stroke-width="1.6"/>
<ellipse cx="188" cy="360" rx="2.2" ry="1.8" fill="#b4b4b4" stroke="#000" stroke-width="1"/>
<ellipse cx="191.5" cy="360" rx="2.2" ry="1.8" fill="#b4b4b4" stroke="#000" stroke-width="1"/>
<ellipse cx="189.7" cy="369.7" rx="2.2" ry="1.8" fill="#b4b4b4" stroke="#000" stroke-width="1"/>
<ellipse cx="187.7" cy="372.9" rx="2.2" ry="1.8" fill="#b4b4b4" stroke="#000" stroke-width="1"/>
<ellipse cx="191.5" cy="372.9" rx="2.2" ry="1.8" fill="#b4b4b4" stroke="#000" stroke-width="1"/>
<rect x="199.25" y="364" width="16.5" height="3.2" fill="#4672c4" stroke="#333" stroke-width="1.35"/>
<ellipse cx="202.5" cy="362.3" rx="2.2" ry="1.8" fill="#4672c4" stroke="#000" stroke-width="1"/>
<ellipse cx="206.6" cy="362.3" rx="2.2" ry="1.8" fill="#4672c4" stroke="#000" stroke-width="1"/>
<ellipse cx="210.6" cy="362.3" rx="2.2" ry="1.8" fill="#4672c4" stroke="#000" stroke-width="1"/>
<ellipse cx="204.6" cy="367.7" rx="2.2" ry="1.8" fill="#4672c4" stroke="#000" stroke-width="1"/>
<ellipse cx="208.6" cy="367.7" rx="2.2" ry="1.8" fill="#4672c4" stroke="#000" stroke-width="1"/>
<line x1="224.5" y1="367.5" x2="224.5" y2="371.5" stroke="#111" stroke-width="1.1"/>
<rect x="216.25" y="371.8" width="16.5" height="4.2" fill="#3a3a3a" stroke="#333" stroke-width="1.35"/>
<ellipse cx="223.9" cy="367.5" rx="2.2" ry="1.8" fill="#f07f1e" stroke="#000" stroke-width="1"/>
<ellipse cx="222.1" cy="373.5" rx="2.2" ry="1.8" fill="#f07f1e" stroke="#000" stroke-width="1"/>
<ellipse cx="226.2" cy="373.5" rx="2.2" ry="1.8" fill="#f07f1e" stroke="#000" stroke-width="1"/>
<ellipse cx="222.1" cy="377.1" rx="2.2" ry="1.8" fill="#f07f1e" stroke="#000" stroke-width="1"/>
<ellipse cx="226.2" cy="377.1" rx="2.2" ry="1.8" fill="#f07f1e" stroke="#000" stroke-width="1"/>
<rect x="233.25" y="364.3" width="16.5" height="6.8" fill="#6fbe4a" stroke="#333" stroke-width="1.35"/>
<line x1="233.25" y1="368" x2="249.75" y2="368" stroke="#111" stroke-width="1.6"/>
<ellipse cx="239.4" cy="362.7" rx="2.2" ry="1.8" fill="#6fbe4a" stroke="#000" stroke-width="1"/>
<ellipse cx="243.5" cy="362.7" rx="2.2" ry="1.8" fill="#6fbe4a" stroke="#000" stroke-width="1"/>
<ellipse cx="241.4" cy="368.1" rx="2.2" ry="1.8" fill="#6fbe4a" stroke="#000" stroke-width="1"/>
<ellipse cx="239.4" cy="372" rx="2.2" ry="1.8" fill="#6fbe4a" stroke="#000" stroke-width="1"/>
<ellipse cx="243.5" cy="372" rx="2.2" ry="1.8" fill="#6fbe4a" stroke="#000" stroke-width="1"/>
<rect x="250.55" y="358.9" width="16.5" height="14.4" fill="#1f8ad2" stroke="#333" stroke-width="1.35"/>
<line x1="250.55" y1="360.9" x2="267.05" y2="360.9" stroke="#111" stroke-width="1.6"/>
<ellipse cx="258.8" cy="354.6" rx="2.2" ry="1.8" fill="#1f8ad2" stroke="#000" stroke-width="1"/>
<ellipse cx="257" cy="360.3" rx="2.2" ry="1.8" fill="#1f8ad2" stroke="#000" stroke-width="1"/>
<ellipse cx="261" cy="360.3" rx="2.2" ry="1.8" fill="#1f8ad2" stroke="#000" stroke-width="1"/>
<ellipse cx="257" cy="373.8" rx="2.2" ry="1.8" fill="#1f8ad2" stroke="#000" stroke-width="1"/>
<ellipse cx="261" cy="373.8" rx="2.2" ry="1.8" fill="#1f8ad2" stroke="#000" stroke-width="1"/>
<rect x="267.75" y="361.2" width="16.5" height="10.3" fill="#a9a9a9" stroke="#333" stroke-width="1.35"/>
<line x1="267.75" y1="370" x2="284.25" y2="370" stroke="#111" stroke-width="1.6"/>
<ellipse cx="274.5" cy="359.8" rx="2.2" ry="1.8" fill="#b4b4b4" stroke="#000" stroke-width="1"/>
<ellipse cx="278.6" cy="359.8" rx="2.2" ry="1.8" fill="#b4b4b4" stroke="#000" stroke-width="1"/>
<ellipse cx="276.1" cy="369.7" rx="2.2" ry="1.8" fill="#b4b4b4" stroke="#000" stroke-width="1"/>
<ellipse cx="274.1" cy="372.9" rx="2.2" ry="1.8" fill="#b4b4b4" stroke="#000" stroke-width="1"/>
<ellipse cx="278.2" cy="372.9" rx="2.2" ry="1.8" fill="#b4b4b4" stroke="#000" stroke-width="1"/>
<rect x="285.05" y="366.4" width="16.5" height="1.4" fill="#4672c4" stroke="#333" stroke-width="1.35"/>
<ellipse cx="285.3" cy="367.1" rx="2.2" ry="1.8" fill="#4672c4" stroke="#000" stroke-width="1"/>
<ellipse cx="289.3" cy="367.1" rx="2.2" ry="1.8" fill="#4672c4" stroke="#000" stroke-width="1"/>
<ellipse cx="293.4" cy="367.1" rx="2.2" ry="1.8" fill="#4672c4" stroke="#000" stroke-width="1"/>
<ellipse cx="297.3" cy="367.1" rx="2.2" ry="1.8" fill="#4672c4" stroke="#000" stroke-width="1"/>
<ellipse cx="301.3" cy="367.1" rx="2.2" ry="1.8" fill="#4672c4" stroke="#000" stroke-width="1"/>
<rect x="302.35" y="373.9" width="16.5" height="1.6" fill="#f07f1e" stroke="#333" stroke-width="1.35"/>
<ellipse cx="310.6" cy="364.5" rx="2.8" ry="2.3" fill="#f07f1e" stroke="#000" stroke-width="1.7"/>
<ellipse cx="304.5" cy="374.7" rx="2.2" ry="1.8" fill="#f07f1e" stroke="#000" stroke-width="1"/>
<ellipse cx="308.6" cy="374.7" rx="2.2" ry="1.8" fill="#f07f1e" stroke="#000" stroke-width="1"/>
<ellipse cx="312.7" cy="374.7" rx="2.2" ry="1.8" fill="#f07f1e" stroke="#000" stroke-width="1"/>
<ellipse cx="316.8" cy="374.7" rx="2.2" ry="1.8" fill="#f07f1e" stroke="#000" stroke-width="1"/>
<line x1="328.2" y1="363.7" x2="328.2" y2="370.4" stroke="#111" stroke-width="1.1"/>
<rect x="319.95" y="370.4" width="16.5" height="4.6" fill="#6fbe4a" stroke="#333" stroke-width="1.35"/>
<line x1="319.95" y1="371.3" x2="336.45" y2="371.3" stroke="#111" stroke-width="1.6"/>
<ellipse cx="327.9" cy="363.7" rx="2.2" ry="1.8" fill="#6fbe4a" stroke="#000" stroke-width="1"/>
<ellipse cx="327.9" cy="370.1" rx="2.2" ry="1.8" fill="#6fbe4a" stroke="#000" stroke-width="1"/>
<ellipse cx="323.8" cy="374.7" rx="2.2" ry="1.8" fill="#6fbe4a" stroke="#000" stroke-width="1"/>
<ellipse cx="327.9" cy="374.7" rx="2.2" ry="1.8" fill="#6fbe4a" stroke="#000" stroke-width="1"/>
<ellipse cx="332" cy="374.7" rx="2.2" ry="1.8" fill="#6fbe4a" stroke="#000" stroke-width="1"/>
<rect x="337.15" y="366.9" width="16.5" height="1.6" fill="#1f8ad2" stroke="#333" stroke-width="1.35"/>
<ellipse cx="345.7" cy="362.2" rx="2.2" ry="1.8" fill="#1f8ad2" stroke="#000" stroke-width="1"/>
<ellipse cx="339" cy="367.7" rx="2.2" ry="1.8" fill="#1f8ad2" stroke="#000" stroke-width="1"/>
<ellipse cx="343.1" cy="367.7" rx="2.2" ry="1.8" fill="#1f8ad2" stroke="#000" stroke-width="1"/>
<ellipse cx="347.2" cy="367.7" rx="2.2" ry="1.8" fill="#1f8ad2" stroke="#000" stroke-width="1"/>
<ellipse cx="351.3" cy="367.7" rx="2.2" ry="1.8" fill="#1f8ad2" stroke="#000" stroke-width="1"/>
<path d="M102.4 359V357.4H172.9V359" fill="none" stroke="#111" stroke-width="1.1"/>
<text transform="translate(135.8,353.9) scale(1.17,1)" font-size="10.5" text-anchor="middle" font-weight="normal" fill="#111">ns</text>
<path d="M190.6 344.4V342.8H260.4V344.4" fill="none" stroke="#111" stroke-width="1.1"/>
<text transform="translate(223.3,339.2) scale(1.17,1)" font-size="10.5" text-anchor="middle" font-weight="normal" fill="#111">ns</text>
<path d="M276.7 348.2V346.6H346.6V348.2" fill="none" stroke="#111" stroke-width="1.1"/>
<text transform="translate(309.2,343) scale(1.17,1)" font-size="10.5" text-anchor="middle" font-weight="normal" fill="#111">ns</text>
<path d="M420.8 288.3V246.9H604.5V288.3" fill="none" stroke="#3a3a3a" stroke-width="1.1"/>
<text x="513" y="269.7" font-size="10.4" text-anchor="middle" font-weight="normal" fill="#111">ST38_3</text>
<text x="513" y="282.2" font-size="10.4" text-anchor="middle" font-weight="normal" fill="#111">LB medium</text>
<rect x="420.2" y="288.4" width="184.5" height="114" fill="none" stroke="#111" stroke-width="1.8"/>
<line x1="415.3" y1="287.6" x2="420.2" y2="287.6" stroke="#222" stroke-width="1.2"/>
<text x="411.7" y="293" font-size="10" text-anchor="end" font-weight="normal" fill="#111">125</text>
<line x1="415.3" y1="325.5" x2="420.2" y2="325.5" stroke="#222" stroke-width="1.2"/>
<text x="411.7" y="330.5" font-size="10" text-anchor="end" font-weight="normal" fill="#111">115</text>
<line x1="415.3" y1="363.3" x2="420.2" y2="363.3" stroke="#222" stroke-width="1.2"/>
<text x="411.7" y="367.1" font-size="10" text-anchor="end" font-weight="normal" fill="#111">105</text>
<line x1="415.3" y1="400.8" x2="420.2" y2="400.8" stroke="#222" stroke-width="1.2"/>
<text x="411.7" y="403.1" font-size="10" text-anchor="end" font-weight="normal" fill="#111">95</text>
<line x1="470.8" y1="402.4" x2="470.8" y2="407.5" stroke="#222" stroke-width="1.2"/>
<line x1="554.5" y1="402.4" x2="554.5" y2="407.5" stroke="#222" stroke-width="1.2"/>
<text x="466.2" y="435.8" font-size="10.6" text-anchor="middle" font-weight="normal" fill="#111">Plasmid free</text>
<text x="553.3" y="428.8" font-size="10.6" text-anchor="middle" font-weight="normal" fill="#111">pOXA-48_1</text>
<text x="553.5" y="442" font-size="10.6" text-anchor="middle" font-weight="normal" fill="#111">MEM / 3 days</text>
<text transform="translate(394.6,333.5) rotate(-90)" x="0" y="0" font-size="10.4" text-anchor="middle" font-weight="bold" fill="#111" style="stroke-width:0.3px" xml:space="preserve">Relative doubling  time (%)</text>
<rect x="429.4" y="383.2" width="15.2" height="4.2" fill="#555" stroke="#111" stroke-width="0.8"/>
<line x1="429.4" y1="385.3" x2="444.6" y2="385.3" stroke="#111" stroke-width="1.3"/>
<circle cx="437" cy="373.8" r="2.1" fill="#b4b4b4" stroke="#000" stroke-width="1.4"/>
<circle cx="437" cy="383.3" r="1.7" fill="#b4b4b4" stroke="#000" stroke-width="0.8"/>
<circle cx="434.6" cy="387.7" r="1.7" fill="#b4b4b4" stroke="#000" stroke-width="0.8"/>
<circle cx="437" cy="387.7" r="1.7" fill="#b4b4b4" stroke="#000" stroke-width="0.8"/>
<circle cx="439.7" cy="387.7" r="1.7" fill="#b4b4b4" stroke="#000" stroke-width="0.8"/>
<line x1="453.9" y1="374" x2="453.9" y2="381.4" stroke="#111" stroke-width="1.1"/>
<rect x="446.3" y="381.4" width="15.2" height="7.1" fill="#4672c4" stroke="#111" stroke-width="0.8"/>
<line x1="446.3" y1="385.3" x2="461.5" y2="385.3" stroke="#111" stroke-width="1.3"/>
<circle cx="453.9" cy="374" r="1.7" fill="#4672c4" stroke="#000" stroke-width="0.8"/>
<circle cx="453.9" cy="382" r="1.7" fill="#4672c4" stroke="#000" stroke-width="0.8"/>
<circle cx="449.8" cy="387.5" r="1.7" fill="#4672c4" stroke="#000" stroke-width="0.8"/>
<circle cx="452.4" cy="387.5" r="1.7" fill="#4672c4" stroke="#000" stroke-width="0.8"/>
<circle cx="454.9" cy="387.5" r="1.7" fill="#4672c4" stroke="#000" stroke-width="0.8"/>
<circle cx="457.5" cy="387.5" r="1.7" fill="#4672c4" stroke="#000" stroke-width="0.8"/>
<rect x="463.5" y="382.4" width="15.2" height="3.6" fill="#f07f1e" stroke="#111" stroke-width="0.8"/>
<line x1="463.5" y1="384.2" x2="478.7" y2="384.2" stroke="#111" stroke-width="1.3"/>
<circle cx="470.6" cy="380.9" r="1.7" fill="#f07f1e" stroke="#000" stroke-width="0.8"/>
<circle cx="467.1" cy="384.7" r="1.7" fill="#f07f1e" stroke="#000" stroke-width="0.8"/>
<circle cx="469.6" cy="384.7" r="1.7" fill="#f07f1e" stroke="#000" stroke-width="0.8"/>
<circle cx="472.2" cy="384.7" r="1.7" fill="#f07f1e" stroke="#000" stroke-width="0.8"/>
<circle cx="474.7" cy="384.7" r="1.7" fill="#f07f1e" stroke="#000" stroke-width="0.8"/>
<rect x="480" y="383.4" width="15.2" height="2.9" fill="#6fbe4a" stroke="#111" stroke-width="0.8"/>
<circle cx="487.6" cy="377.6" r="2.1" fill="#6fbe4a" stroke="#000" stroke-width="1.4"/>
<circle cx="487.6" cy="382.9" r="1.7" fill="#6fbe4a" stroke="#000" stroke-width="0.8"/>
<circle cx="484.8" cy="385.7" r="1.7" fill="#6fbe4a" stroke="#000" stroke-width="0.8"/>
<circle cx="487.4" cy="385.7" r="1.7" fill="#6fbe4a" stroke="#000" stroke-width="0.8"/>
<circle cx="490.2" cy="385.7" r="1.7" fill="#6fbe4a" stroke="#000" stroke-width="0.8"/>
<rect x="496.6" y="382.4" width="15.2" height="3.3" fill="#1f8ad2" stroke="#111" stroke-width="0.8"/>
<line x1="496.6" y1="384.2" x2="511.8" y2="384.2" stroke="#111" stroke-width="1.3"/>
<circle cx="504.1" cy="380.4" r="1.7" fill="#1f8ad2" stroke="#000" stroke-width="0.8"/>
<circle cx="500" cy="384.4" r="1.7" fill="#1f8ad2" stroke="#000" stroke-width="0.8"/>
<circle cx="502.6" cy="384.4" r="1.7" fill="#1f8ad2" stroke="#000" stroke-width="0.8"/>
<circle cx="505.4" cy="384.4" r="1.7" fill="#1f8ad2" stroke="#000" stroke-width="0.8"/>
<circle cx="508.1" cy="384.4" r="1.7" fill="#1f8ad2" stroke="#000" stroke-width="0.8"/>
<rect x="513.4" y="365.4" width="15.2" height="4.4" fill="#a9a9a9" stroke="#111" stroke-width="0.8"/>
<line x1="513.4" y1="367" x2="528.6" y2="367" stroke="#111" stroke-width="1.3"/>
<circle cx="519.5" cy="364.2" r="1.7" fill="#b4b4b4" stroke="#000" stroke-width="0.8"/>
<circle cx="522.2" cy="364.2" r="1.7" fill="#b4b4b4" stroke="#000" stroke-width="0.8"/>
<circle cx="518.6" cy="369.6" r="1.7" fill="#b4b4b4" stroke="#000" stroke-width="0.8"/>
<circle cx="520.8" cy="369.6" r="1.7" fill="#b4b4b4" stroke="#000" stroke-width="0.8"/>
<circle cx="523.3" cy="369.6" r="1.7" fill="#b4b4b4" stroke="#000" stroke-width="0.8"/>
<rect x="530.1" y="363.3" width="15.2" height="2.8" fill="#4672c4" stroke="#111" stroke-width="0.8"/>
<line x1="530.1" y1="364.6" x2="545.3" y2="364.6" stroke="#111" stroke-width="1.3"/>
<circle cx="536.3" cy="362.4" r="1.7" fill="#4672c4" stroke="#000" stroke-width="0.8"/>
<circle cx="539" cy="362.4" r="1.7" fill="#4672c4" stroke="#000" stroke-width="0.8"/>
<circle cx="535.1" cy="366.3" r="1.7" fill="#4672c4" stroke="#000" stroke-width="0.8"/>
<circle cx="537.8" cy="366.3" r="1.7" fill="#4672c4" stroke="#000" stroke-width="0.8"/>
<circle cx="540.5" cy="366.3" r="1.7" fill="#4672c4" stroke="#000" stroke-width="0.8"/>
<rect x="546.8" y="364.3" width="15.2" height="5" fill="#f07f1e" stroke="#111" stroke-width="0.8"/>
<line x1="546.8" y1="366.1" x2="562" y2="366.1" stroke="#111" stroke-width="1.3"/>
<circle cx="553.1" cy="362.5" r="1.7" fill="#f07f1e" stroke="#000" stroke-width="0.8"/>
<circle cx="556.2" cy="362.5" r="1.7" fill="#f07f1e" stroke="#000" stroke-width="0.8"/>
<circle cx="551.7" cy="369.3" r="1.7" fill="#f07f1e" stroke="#000" stroke-width="0.8"/>
<circle cx="554.4" cy="369.3" r="1.7" fill="#f07f1e" stroke="#000" stroke-width="0.8"/>
<circle cx="557.1" cy="369.3" r="1.7" fill="#f07f1e" stroke="#000" stroke-width="0.8"/>
<line x1="571.2" y1="356.2" x2="571.2" y2="360.3" stroke="#111" stroke-width="1.1"/>
<rect x="563.6" y="360.3" width="15.2" height="6.7" fill="#6fbe4a" stroke="#111" stroke-width="0.8"/>
<line x1="563.6" y1="363.9" x2="578.8" y2="363.9" stroke="#111" stroke-width="1.3"/>
<circle cx="570.8" cy="356.2" r="1.7" fill="#6fbe4a" stroke="#000" stroke-width="0.8"/>
<circle cx="569.4" cy="361.5" r="1.7" fill="#6fbe4a" stroke="#000" stroke-width="0.8"/>
<circle cx="572.1" cy="361.5" r="1.7" fill="#6fbe4a" stroke="#000" stroke-width="0.8"/>
<circle cx="569.4" cy="366.9" r="1.7" fill="#6fbe4a" stroke="#000" stroke-width="0.8"/>
<circle cx="572.1" cy="366.9" r="1.7" fill="#6fbe4a" stroke="#000" stroke-width="0.8"/>
<rect x="580.3" y="367" width="15.2" height="4.6" fill="#1f8ad2" stroke="#111" stroke-width="0.8"/>
<line x1="580.3" y1="368.9" x2="595.5" y2="368.9" stroke="#111" stroke-width="1.3"/>
<circle cx="587" cy="366.9" r="1.7" fill="#1f8ad2" stroke="#000" stroke-width="0.8"/>
<circle cx="589.4" cy="366.9" r="1.7" fill="#1f8ad2" stroke="#000" stroke-width="0.8"/>
<circle cx="585.7" cy="370.7" r="1.7" fill="#1f8ad2" stroke="#000" stroke-width="0.8"/>
<circle cx="588.2" cy="370.7" r="1.7" fill="#1f8ad2" stroke="#000" stroke-width="0.8"/>
<circle cx="590.9" cy="370.7" r="1.7" fill="#1f8ad2" stroke="#000" stroke-width="0.8"/>
<path d="M437.2 361.5V359.9H504.6V361.5" fill="none" stroke="#333" stroke-width="1.1"/>
<text x="470.6" y="348.1" font-size="10.5" text-anchor="middle" font-weight="normal" fill="#111">ns</text>
<path d="M520.8 352.9V351.3H587.9V352.9" fill="none" stroke="#333" stroke-width="1.1"/>
<text x="554.6" y="340.8" font-size="10.5" text-anchor="middle" font-weight="normal" fill="#111">ns</text>
<text x="615.9" y="283.8" font-size="10" text-anchor="start" font-weight="bold" fill="#111" style="stroke-width:0.3px">Days</text>
<line x1="624.3" y1="297.2" x2="624.3" y2="315.2" stroke="#333" stroke-width="1"/>
<rect x="615.3" y="300.2" width="18" height="12" fill="#a9a9a9" stroke="#333" stroke-width="1.2"/>
<line x1="615.3" y1="306.2" x2="633.3" y2="306.2" stroke="#222" stroke-width="1"/>
<circle cx="624.3" cy="306.2" r="4.4" fill="#a9a9a9" stroke="#111" stroke-width="1.2"/>
<text x="639.8" y="310.2" font-size="10.2" text-anchor="start" font-weight="normal" fill="#111">D0</text>
<line x1="624.3" y1="319.7" x2="624.3" y2="337.7" stroke="#333" stroke-width="1"/>
<rect x="615.3" y="322.7" width="18" height="12" fill="#4672c4" stroke="#333" stroke-width="1.2"/>
<line x1="615.3" y1="328.7" x2="633.3" y2="328.7" stroke="#222" stroke-width="1"/>
<circle cx="624.3" cy="328.7" r="4.4" fill="#4672c4" stroke="#111" stroke-width="1.2"/>
<text x="639.8" y="332.7" font-size="10.2" text-anchor="start" font-weight="normal" fill="#111">D7</text>
<line x1="624.3" y1="342.2" x2="624.3" y2="360.2" stroke="#333" stroke-width="1"/>
<rect x="615.3" y="345.2" width="18" height="12" fill="#f07f1e" stroke="#333" stroke-width="1.2"/>
<line x1="615.3" y1="351.2" x2="633.3" y2="351.2" stroke="#222" stroke-width="1"/>
<circle cx="624.3" cy="351.2" r="4.4" fill="#f07f1e" stroke="#111" stroke-width="1.2"/>
<text x="639.8" y="355.2" font-size="10.2" text-anchor="start" font-weight="normal" fill="#111">D14</text>
<line x1="624.3" y1="364.7" x2="624.3" y2="382.7" stroke="#333" stroke-width="1"/>
<rect x="615.3" y="367.7" width="18" height="12" fill="#6fbe4a" stroke="#333" stroke-width="1.2"/>
<line x1="615.3" y1="373.7" x2="633.3" y2="373.7" stroke="#222" stroke-width="1"/>
<circle cx="624.3" cy="373.7" r="4.4" fill="#6fbe4a" stroke="#111" stroke-width="1.2"/>
<text x="639.8" y="377.7" font-size="10.2" text-anchor="start" font-weight="normal" fill="#111">D21</text>
<line x1="624.3" y1="387.2" x2="624.3" y2="405.2" stroke="#333" stroke-width="1"/>
<rect x="615.3" y="390.2" width="18" height="12" fill="#1f8ad2" stroke="#333" stroke-width="1.2"/>
<line x1="615.3" y1="396.2" x2="633.3" y2="396.2" stroke="#222" stroke-width="1"/>
<circle cx="624.3" cy="396.2" r="4.4" fill="#1f8ad2" stroke="#111" stroke-width="1.2"/>
<text x="639.8" y="400.2" font-size="10.2" text-anchor="start" font-weight="normal" fill="#111">D28</text>
</svg></body></html>
